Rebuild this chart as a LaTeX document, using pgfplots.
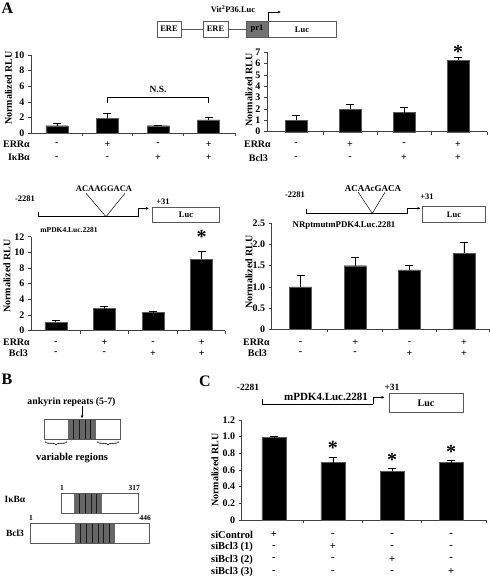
\documentclass[border=0pt]{standalone}
\usepackage{pgfplots}
\pgfplotsset{compat=1.18}
\usepackage{fontspec}
\setmainfont{Liberation Serif}
\usetikzlibrary{decorations.pathreplacing,arrows.meta}
\newcommand{\fs}[1]{\bfseries\fontsize{#1}{#1}\selectfont}
\pgfplotsset{
  rlu/.style={
    scale only axis, anchor=south west,
    axis x line*=bottom, axis y line*=left,
    axis line style={black!75, line width=0.6pt},
    ybar, ymin=0,
    tick align=outside, major tick length=3pt,
    every tick/.style={black!75, line width=0.6pt},
    xticklabels={},
    tick label style={font=\fs{10}},
    clip=false,
  },
  rbar/.style={fill=black, draw=black!65, line width=0.4pt, bar width=22pt,
    error bars/y dir=plus, error bars/y explicit,
    error bars/error bar style={black, line width=0.6pt},
    error bars/error mark options={black, line width=0.6pt, mark size=4pt, rotate=90}},
}
\tikzset{star/.style={font=\fs{20}, inner sep=0pt}}
\begin{document}
\begin{tikzpicture}
\path[use as bounding box] (0,0) rectangle (490pt,-582pt);

% ---------- A1
\begin{axis}[rlu, at={(31pt,-133.3pt)}, width=204pt, height=78.3pt,
  xmin=0.49, xmax=4.52, ymax=10,
  ytick={0,2,4,6,8,10}, yticklabels={0,2,4,6,8,10},
  xtick={1.5,2.5,3.5,4.52}]
\addplot[rbar] coordinates {(1,0.97) +- (0,0.25) (2,1.92) +- (0,0.6) (3,0.97) +- (0,0.1) (4,1.7) +- (0,0.3)};
\draw[black, line width=0.5pt] (axis cs:2,3.85) -- (axis cs:2,4.64) -- (axis cs:4,4.64) -- (axis cs:4,3.85);
\node[font=\fs{9.5}] at (axis cs:3,5.6) {N.S.};
\end{axis}

% ---------- A2
\begin{axis}[rlu, at={(267pt,-131.7pt)}, width=220pt, height=79.4pt,
  xmin=0.463, xmax=4.537, ymax=7,
  ytick={0,1,2,3,4,5,6,7}, yticklabels={0,1,2,3,4,5,6,7},
  xtick={1.5,2.5,3.5,4.537}]
\addplot[rbar] coordinates {(1,1.03) +- (0,0.38) (2,2.0) +- (0,0.44) (3,1.68) +- (0,0.44) (4,6.32) +- (0,0.24)};
\node[star] at (axis cs:4,7.0) {*};
\end{axis}

% ---------- A3
\begin{axis}[rlu, at={(31pt,-330.5pt)}, width=194pt, height=93.8pt,
  xmin=0.49, xmax=4.48, ymax=12,
  ytick={0,2,4,6,8,10,12}, yticklabels={0,2,4,6,8,10,12},
  xtick={1.5,2.5,3.5,4.48}]
\addplot[rbar] coordinates {(1,1.05) +- (0,0.2) (2,2.8) +- (0,0.3) (3,2.3) +- (0,0.15) (4,9.1) +- (0,1.0)};
\node[star] at (axis cs:4,12.0) {*};
\end{axis}

% ---------- A4
\begin{axis}[rlu, at={(271.7pt,-329.3pt)}, width=217.3pt, height=106pt,
  xmin=0.47, xmax=4.46, ymax=2.5,
  ytick={0,0.5,1,1.5,2,2.5}, yticklabels={0,0.5,1.0,1.5,2.0,2.5},
  xtick={1.5,2.5,3.5,4.46}]
\addplot[rbar] coordinates {(1,1.0) +- (0,0.27) (2,1.5) +- (0,0.2) (3,1.4) +- (0,0.1) (4,1.79) +- (0,0.26)};
\end{axis}

% ---------- C
\begin{axis}[rlu, at={(241.7pt,-520pt)}, width=244.3pt, height=100pt,
  xmin=0.456, xmax=4.59, ymax=1.2,
  ytick={0,0.2,0.4,0.6,0.8,1,1.2}, yticklabels={0,0.2,0.4,0.6,0.8,1.0,1.2},
  xtick={1.5,2.5,3.5,4.59}]
\addplot[rbar, bar width=24pt] coordinates {(1,0.99) +- (0,0.02) (2,0.69) +- (0,0.06) (3,0.585) +- (0,0.035) (4,0.69) +- (0,0.03)};
\node[star] at (axis cs:2,0.86) {*};
\node[star] at (axis cs:3,0.72) {*};
\node[star] at (axis cs:4,0.82) {*};
\end{axis}

% ---------- texts and diagrams (pixel coordinates)
\begin{scope}[x=1pt, y=-1pt, every node/.style={inner sep=0pt}]
% panel letters
\node[font=\fs{16}] at (7.5,8) {A};
\node[font=\fs{16}] at (7,379) {B};
\node[font=\fs{16}] at (205,381) {C};

% y labels
\node[font=\fs{10}, rotate=90] at (8.5,88) {Normalized RLU};
\node[font=\fs{10}, rotate=90] at (249,90) {Normalized RLU};
\node[font=\fs{10}, rotate=90] at (7,276) {Normalized RLU};
\node[font=\fs{10}, rotate=90] at (249,272) {Normalized RLU};
\node[font=\fs{10}, rotate=90] at (215,470) {Normalized RLU};

% row labels A1
\node[font=\fs{10}, anchor=east] at (30,144.3) {ERRα};
\node[font=\fs{10}, anchor=east] at (30,157.7) {IκBα};
\foreach \x/\s in {56.8/-,107.4/+,158/-,208.6/+} \node[font=\fs{10}] at (\x,144.3) {\s};
\foreach \x/\s in {56.8/-,107.4/-,158/+,208.6/+} \node[font=\fs{10}] at (\x,157.7) {\s};
% row labels A2
\node[font=\fs{10}, anchor=east] at (271,144.3) {ERRα};
\node[font=\fs{10}, anchor=east] at (268,157.7) {Bcl3};
\foreach \x/\s in {296/-,350/+,404/-,458/+} \node[font=\fs{10}] at (\x,144.3) {\s};
\foreach \x/\s in {296/-,350/-,404/+,458/+} \node[font=\fs{10}] at (\x,157.7) {\s};
% row labels A3
\node[font=\fs{10}, anchor=east] at (30,342.7) {ERRα};
\node[font=\fs{10}, anchor=east] at (28,353.5) {Bcl3};
\foreach \x/\s in {55.8/-,104.4/+,153/-,201.6/+} \node[font=\fs{10}] at (\x,342.7) {\s};
\foreach \x/\s in {55.8/-,104.4/-,153/+,201.6/+} \node[font=\fs{10}] at (\x,353.5) {\s};
% row labels A4
\node[font=\fs{10}, anchor=east] at (270,342.7) {ERRα};
\node[font=\fs{10}, anchor=east] at (267,353.5) {Bcl3};
\foreach \x/\s in {300.6/-,355.1/+,409.5/-,464/+} \node[font=\fs{10}] at (\x,342.7) {\s};
\foreach \x/\s in {300.6/-,355.1/-,409.5/+,464/+} \node[font=\fs{10}] at (\x,353.5) {\s};
% row labels C
\node[font=\fs{10.5}, anchor=west] at (211,535) {siControl};
\node[font=\fs{10.5}, anchor=west] at (211,547) {siBcl3 (1)};
\node[font=\fs{10.5}, anchor=west] at (211,559.5) {siBcl3 (2)};
\node[font=\fs{10.5}, anchor=west] at (211,572) {siBcl3 (3)};
\foreach \x/\s in {273.8/+,332.9/-,392/-,451.1/-} \node[font=\fs{10.5}] at (\x,535) {\s};
\foreach \x/\s in {273.8/-,332.9/+,392/-,451.1/-} \node[font=\fs{10.5}] at (\x,547) {\s};
\foreach \x/\s in {273.8/-,332.9/-,392/+,451.1/-} \node[font=\fs{10.5}] at (\x,559.5) {\s};
\foreach \x/\s in {273.8/-,332.9/-,392/-,451.1/+} \node[font=\fs{10.5}] at (\x,572) {\s};

% ---- top construct
\node[font=\fs{8.5}] at (233,9) {Vit\textsuperscript{2}P36.Luc};
\begin{scope}[draw=black!65, line width=0.7pt]
\draw (157,21) rectangle (181,37);
\draw (181,29) -- (203,29);
\draw (203,21) rectangle (228,37);
\draw (228,29) -- (246,29);
\draw[fill=black!55] (246,21) rectangle (268,37);
\draw (268,21) rectangle (336,37);
\end{scope}
\node[font=\fs{8.5}] at (169,29) {ERE};
\node[font=\fs{8.5}] at (215.5,29) {ERE};
\node[font=\fs{8.5}] at (257,29) {pr1};
\node[font=\fs{8.5}] at (302,29.5) {Luc};
\draw[line width=0.6pt, -{Latex[length=3pt,width=3pt]}] (268,21) -- (268,12) -- (281,12);

% ---- A3 construct
\node[font=\fs{8.5}] at (25,198.3) {-2281};
\node[font=\fs{8.5}] at (104,188.3) {ACAAGGACA};
\node[font=\fs{8.5}] at (163,201.7) {+31};
\draw[line width=0.6pt] (38.3,211.7) -- (38.3,216.7) -- (138.3,216.7);
\draw[line width=0.6pt, -{Latex[length=3pt,width=3pt]}] (138.3,216.7) -- (138.3,208.3) -- (149,208.3);
\draw[line width=0.5pt] (86,193.3) -- (106,216.7) -- (125,193.3);
\draw[line width=0.7pt, draw=black!65] (152.7,207.3) rectangle (219,222.7);
\node[font=\fs{8.5}] at (186,215) {Luc};
\node[font=\fs{7.5}] at (69,230) {mPDK4.Luc.2281};

% ---- A4 construct
\node[font=\fs{8.5}] at (295,195) {-2281};
\node[font=\fs{9}] at (373,188.3) {ACAAcGACA};
\node[font=\fs{8.5}] at (427,196.7) {+31};
\draw[line width=0.6pt] (306.7,209.3) -- (306.7,213.3) -- (407.7,213.3);
\draw[line width=0.6pt, -{Latex[length=3pt,width=3pt]}] (407.7,213.3) -- (407.7,208.3) -- (420.5,208.3);
\draw[line width=0.5pt] (358.3,192.3) -- (372.3,213.3) -- (385,192.3);
\draw[line width=0.7pt, draw=black!65] (422.3,206) rectangle (485,222.3);
\node[font=\fs{8.5}] at (454,214.5) {Luc};
\node[font=\fs{8.8}] at (344,226) {NRptmutmPDK4.Luc.2281};

% ---- C construct
\node[font=\fs{9.5}] at (248,387) {-2281};
\node[font=\fs{9.5}] at (392,387) {+31};
\node[font=\fs{11}] at (326,397) {mPDK4.Luc.2281};
\draw[line width=0.6pt] (262,399) -- (262,404) -- (373.3,404);
\draw[line width=0.6pt, -{Latex[length=3pt,width=3pt]}] (373.3,404) -- (373.3,397.3) -- (384.5,397.3);
\draw[line width=0.7pt, draw=black!65] (389,393.3) rectangle (463.3,412.7);
\node[font=\fs{10}] at (426,403) {Luc};

% ---- panel B
\node[font=\fs{9.8}] at (71.5,402) {ankyrin repeats (5-7)};
\draw[line width=0.6pt, -{Latex[length=3pt,width=3pt]}] (82,406) -- (82,418.5);
\fill[black!60] (68,419) rectangle (96,439);
\foreach \i in {1,...,4} \draw[black!90, line width=0.5pt] ({68+\i*5.6},419) -- ({68+\i*5.6},439);
\draw[line width=0.6pt, draw=black!65] (44,419) rectangle (120,439);
\draw[line width=0.6pt, decorate, decoration={brace, amplitude=3.5pt, mirror}] (45,441.5) -- (67,441.5);
\draw[line width=0.6pt, decorate, decoration={brace, amplitude=3.5pt, mirror}] (97,441.5) -- (119,441.5);
\node[font=\fs{10.5}] at (72,458) {variable regions};

\node[font=\fs{9.5}] at (15,499) {IκBα};
\fill[black!60] (74,493) rectangle (102,513);
\foreach \i in {1,...,4} \draw[black!90, line width=0.5pt] ({74+\i*5.6},493) -- ({74+\i*5.6},513);
\draw[line width=0.6pt, draw=black!65] (61,493) rectangle (138,513);
\node[font=\fs{7.5}, anchor=south] at (62,490.5) {1};
\node[font=\fs{7.5}, anchor=south east] at (140,490.5) {317};

\node[font=\fs{9.5}] at (15,533) {Bcl3};
\fill[black!60] (75,523) rectangle (115,543);
\foreach \i in {1,...,6} \draw[black!90, line width=0.5pt] ({75+\i*5.714},523) -- ({75+\i*5.714},543);
\draw[line width=0.6pt, draw=black!65] (30,523) rectangle (149,543);
\node[font=\fs{7.5}, anchor=south] at (31,520.5) {1};
\node[font=\fs{7.5}, anchor=south east] at (151,520.5) {446};
\end{scope}
\end{tikzpicture}
\end{document}
